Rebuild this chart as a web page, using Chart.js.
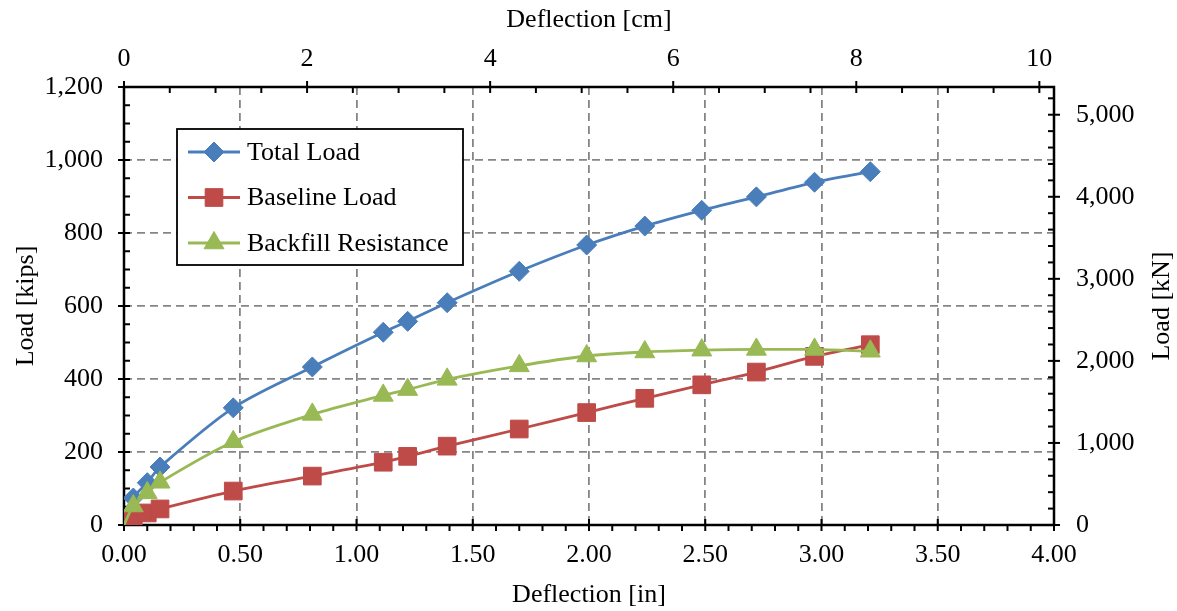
<!DOCTYPE html>
<html>
<head>
<meta charset="utf-8">
<script src="https://cdn.jsdelivr.net/npm/chart.js@4.4.0/dist/chart.umd.min.js"></script>
<style>
  html, body { margin: 0; padding: 0; background: #fff; }
</style>
</head>
<body>
<canvas id="chart" width="1177" height="611"></canvas>
<script>
// Values: deflection in inches, loads in kips
const deflection   = [0, 0.04, 0.10, 0.155, 0.47, 0.81, 1.115, 1.22, 1.39, 1.70, 1.99, 2.24, 2.485, 2.72, 2.97, 3.21];
const totalLoad    = [0, 74, 116, 159, 321, 433, 528, 558, 609, 695, 767, 819, 862, 899, 939, 968];
const baselineLoad = [0, 15, 33, 44, 93, 134, 172, 188, 216, 263, 308, 347, 384, 419, 462, 494];
const backfillLoad = [0, 52, 88, 117, 228, 303, 355, 371, 399, 436, 463, 474, 479, 481, 481, 476];

const seriesNames = ['Total Load', 'Baseline Load', 'Backfill Resistance'];

// Tick labels
const inTicks   = [0, 0.5, 1, 1.5, 2, 2.5, 3, 3.5, 4];
const cmTicks   = [0, 2, 4, 6, 8, 10];
const kipsTicks = [0, 200, 400, 600, 800, 1000, 1200];
const kNTicks   = [0, 1000, 2000, 3000, 4000, 5000];

const IN_TO_CM = 2.54;
const KIP_TO_KN = 4.44822;

const FONT = "'Liberation Serif', 'Times New Roman', serif";
Chart.defaults.font.family = FONT;
Chart.defaults.font.size = 26;
Chart.defaults.color = '#000';

const pts = ys => deflection.map((x, i) => ({ x: x, y: ys[i] }));
const radii = r => deflection.map(x => x === 0 ? 0 : r);
const useTicks = list => scale => { scale.ticks = list.map(v => ({ value: v })); };

function makeSet(label, ys, color, style, r, order) {
  return {
    label: label,
    data: pts(ys),
    borderColor: color,
    backgroundColor: color,
    borderWidth: 2.8,
    pointStyle: style,
    pointRadius: radii(r),
    pointHoverRadius: radii(r),
    pointBorderWidth: 1,
    tension: 0.3,
    order: order
  };
}

const gridOpts = { color: '#858585', lineWidth: 1.8, drawTicks: false };

// axis frame with major/minor tick marks like the original
const frame = {
  id: 'frame',
  beforeDatasetsDraw(chart) {
    const { ctx, chartArea: a, scales } = chart;
    ctx.save();
    ctx.strokeStyle = '#000';
    ctx.lineWidth = 2;
    const L = 6;
    const marks = (scale, minor, major, horiz, pos, out, minorMode) => {
      const n = Math.floor((scale.max - scale.min) / minor + 1e-6);
      for (let i = 0; i <= n; i++) {
        const v = scale.min + i * minor;
        const p = scale.getPixelForValue(v);
        const isMajor = Math.abs(v / major - Math.round(v / major)) < 1e-6;
        let s, e;
        if (isMajor) { s = -L; e = L; }
        else if (minorMode === 'out') { s = 0; e = L * out; }
        else { s = 0; e = -L * out; }
        ctx.beginPath();
        if (horiz) { ctx.moveTo(p, pos + s); ctx.lineTo(p, pos + e); }
        else { ctx.moveTo(pos + s, p); ctx.lineTo(pos + e, p); }
        ctx.stroke();
      }
    };
    marks(scales.x, 0.1, 0.5, true, a.bottom, 1, 'out');
    marks(scales.x2, 0.5, 2, true, a.top, -1, 'in');
    marks(scales.y, 50, 200, false, a.left, -1, 'in');
    marks(scales.y2, 200, 1000, false, a.right, 1, 'in');
    ctx.lineWidth = 2.5;
    ctx.strokeRect(a.left, a.top, a.right - a.left, a.bottom - a.top);
    ctx.restore();
  },
  afterDraw(chart) {
    const { ctx, chartArea: a } = chart;
    ctx.save();
    // right axis title reads bottom-to-top
    ctx.font = '26px ' + FONT;
    ctx.fillStyle = '#000';
    ctx.textAlign = 'center';
    ctx.textBaseline = 'middle';
    ctx.translate(1162, (a.top + a.bottom) / 2);
    ctx.rotate(-Math.PI / 2);
    ctx.fillText('Load [kN]', 0, 0);
    ctx.restore();

    // legend box
    ctx.save();
    const bx = a.left + 53, by = a.top + 42, bw = 286, bh = 136;
    ctx.fillStyle = '#fff';
    ctx.fillRect(bx, by, bw, bh);
    ctx.strokeStyle = '#000';
    ctx.lineWidth = 1.8;
    ctx.strokeRect(bx, by, bw, bh);
    ctx.font = '26px ' + FONT;
    ctx.textBaseline = 'middle';
    ctx.textAlign = 'left';
    chart.data.datasets.forEach((ds, i) => {
      const y = by + 23 + i * 45.5;
      ctx.strokeStyle = ds.borderColor;
      ctx.lineWidth = 2.8;
      ctx.beginPath();
      ctx.moveTo(bx + 11, y);
      ctx.lineTo(bx + 63, y);
      ctx.stroke();
      ctx.fillStyle = ds.backgroundColor;
      ctx.lineWidth = 1;
      Chart.helpers.drawPoint(ctx, { pointStyle: ds.pointStyle, radius: ds.pointRadius[1], rotation: 0, borderWidth: 1 }, bx + 37, y);
      ctx.fillStyle = '#000';
      ctx.fillText(ds.label, bx + 70, y + 1);
    });
    ctx.restore();
  }
};

new Chart(document.getElementById('chart'), {
  type: 'line',
  data: {
    datasets: [
      makeSet(seriesNames[0], totalLoad, '#4a7ebb', 'rectRot', 10, 2),
      makeSet(seriesNames[1], baselineLoad, '#be4b48', 'rect', 12.5, 1),
      makeSet(seriesNames[2], backfillLoad, '#98b954', 'triangle', 11.5, 0)
    ]
  },
  options: {
    responsive: false,
    animation: false,
    devicePixelRatio: 1,
    layout: { padding: 0 },
    plugins: { legend: { display: false }, tooltip: { enabled: false } },
    scales: {
      x: {
        type: 'linear', position: 'bottom', min: 0, max: 4,
        afterBuildTicks: useTicks(inTicks),
        afterFit: s => { s.height = 86; },
        grid: gridOpts,
        border: { display: false, dash: [8, 5] },
        ticks: { padding: 15, maxRotation: 0, autoSkip: false, callback: v => v.toFixed(2) },
        title: { display: true, text: 'Deflection [in]', padding: { top: 0, bottom: 0 } }
      },
      x2: {
        type: 'linear', position: 'top', min: 0, max: 4 * IN_TO_CM,
        afterBuildTicks: useTicks(cmTicks),
        afterFit: s => { s.height = 87; },
        grid: { display: false, drawTicks: false },
        border: { display: false },
        ticks: { padding: 12, maxRotation: 0, autoSkip: false, callback: v => String(v) },
        title: { display: true, text: 'Deflection [cm]', padding: { top: 5, bottom: 0 } }
      },
      y: {
        type: 'linear', position: 'left', min: 0, max: 1200,
        afterBuildTicks: useTicks(kipsTicks),
        afterFit: s => { s.width = 124; },
        grid: gridOpts,
        border: { display: false, dash: [8, 5] },
        ticks: { padding: 21, autoSkip: false, callback: v => v.toLocaleString('en-US') },
        title: { display: true, text: 'Load [kips]', padding: { top: 11, bottom: 0 } }
      },
      y2: {
        type: 'linear', position: 'right', min: 0, max: 1200 * KIP_TO_KN,
        afterBuildTicks: useTicks(kNTicks),
        afterFit: s => { s.width = 123; },
        grid: { display: false, drawTicks: false },
        border: { display: false },
        ticks: { padding: 22, autoSkip: false, callback: v => v.toLocaleString('en-US') },
        title: { display: false }
      }
    }
  },
  plugins: [frame]
});
</script>
</body>
</html>
